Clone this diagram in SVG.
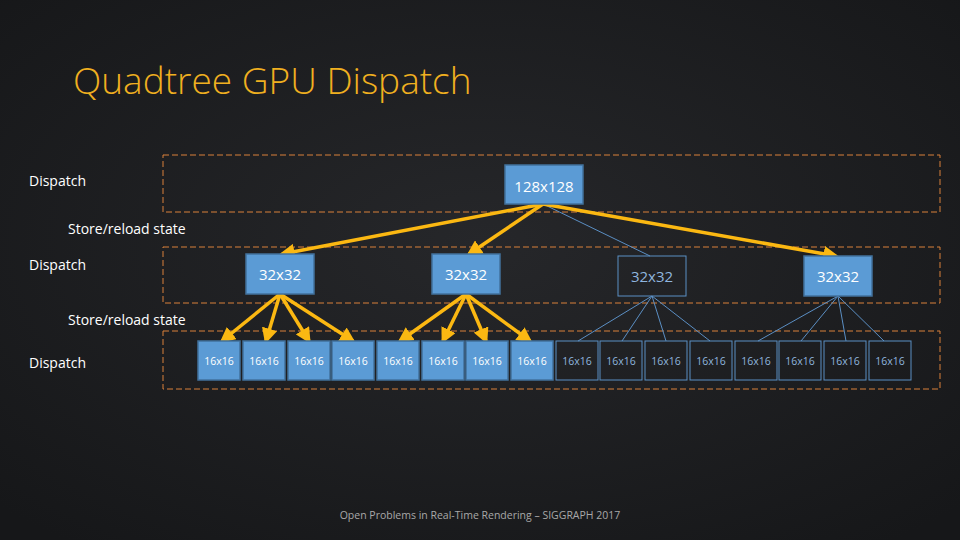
<svg xmlns="http://www.w3.org/2000/svg" width="960" height="540" viewBox="0 0 960 540">
<defs>
<radialGradient id="bg" cx="50%" cy="45%" r="70%"><stop offset="0" stop-color="#26272a"/><stop offset="1" stop-color="#161719"/></radialGradient>
<marker id="ah" viewBox="0 0 10 10" refX="8" refY="5" markerWidth="4.5" markerHeight="4.5" orient="auto"><path d="M0,0 L10,5 L0,10 z" fill="#fbb812"/></marker>
</defs>
<style>
.lane{fill:none;stroke:#d9803a;stroke-width:1;stroke-dasharray:6,3}
.f{fill:#5b9bd5;stroke:#41719c;stroke-width:1.5}
.o{fill:none;stroke:#5b8fc4;stroke-width:1}
.t{font-family:"Open Sans","Liberation Sans",Arial,sans-serif;fill:#fff;text-anchor:middle}
.to{font-family:"Open Sans","Liberation Sans",Arial,sans-serif;fill:#8fb5de;text-anchor:middle}
.lbl{font-family:"Open Sans","Liberation Sans",Arial,sans-serif;fill:#fff;font-size:14px}
.y{stroke:#fbb812;stroke-width:3.5;fill:none;marker-end:url(#ah)}
.b{stroke:#5b8fc4;stroke-width:1;fill:none}
</style>
<rect width="960" height="540" fill="url(#bg)"/>
<text x="73" y="94" font-family="'Open Sans','Liberation Sans',Arial,sans-serif" font-size="37" fill="#f0b020" font-weight="300">Quadtree GPU Dispatch</text>
<rect class="lane" x="163" y="155" width="777" height="57"/>
<rect class="lane" x="163" y="247" width="777" height="56"/>
<rect class="lane" x="163" y="331" width="777" height="58"/>
<text class="lbl" x="29" y="186">Dispatch</text>
<text class="lbl" x="68" y="234">Store/reload state</text>
<text class="lbl" x="29" y="270">Dispatch</text>
<text class="lbl" x="68" y="325">Store/reload state</text>
<text class="lbl" x="29" y="368">Dispatch</text>
<g id="connectors">
<line class="b" x1="543" y1="204" x2="650" y2="256"/>
<line class="b" x1="652" y1="296" x2="578" y2="341"/><line class="b" x1="652" y1="296" x2="622" y2="341"/><line class="b" x1="652" y1="296" x2="666" y2="341"/><line class="b" x1="652" y1="296" x2="710" y2="341"/>
<line class="b" x1="838" y1="296" x2="758" y2="341"/><line class="b" x1="838" y1="296" x2="801" y2="341"/><line class="b" x1="838" y1="296" x2="846" y2="341"/><line class="b" x1="838" y1="296" x2="884" y2="341"/>
<line class="y" x1="543" y1="204" x2="282" y2="254"/>
<line class="y" x1="543" y1="204" x2="469" y2="254"/>
<line class="y" x1="543" y1="204" x2="836" y2="256"/>
<line class="y" x1="280" y1="294" x2="222" y2="341"/><line class="y" x1="280" y1="294" x2="266" y2="341"/><line class="y" x1="280" y1="294" x2="309" y2="341"/><line class="y" x1="280" y1="294" x2="353" y2="341"/>
<line class="y" x1="466" y1="294" x2="400" y2="341"/><line class="y" x1="466" y1="294" x2="443" y2="341"/><line class="y" x1="466" y1="294" x2="486" y2="341"/><line class="y" x1="466" y1="294" x2="530" y2="341"/>
</g>
<g id="n128"><rect class="f" x="505" y="165" width="78" height="39"/><text class="t" x="544" y="192" font-size="15">128x128</text></g>
<g id="n32a"><rect class="f" x="246" y="254" width="68" height="40"/><text class="t" x="280" y="280" font-size="15">32x32</text></g>
<g id="n32b"><rect class="f" x="432" y="254" width="68" height="40"/><text class="t" x="466" y="280" font-size="15">32x32</text></g>
<g id="n32c"><rect class="o" x="618" y="256" width="68" height="40"/><text class="to" x="652" y="282" font-size="15">32x32</text></g>
<g id="n32d"><rect class="f" x="804" y="256" width="68" height="40"/><text class="t" x="838" y="282" font-size="15">32x32</text></g>
<g font-size="10.5">
<g id="s1"><rect class="f" x="198" y="341" width="42" height="39"/><text class="t" x="219" y="365">16x16</text></g>
<g id="s2"><rect class="f" x="243" y="341" width="42" height="39"/><text class="t" x="264" y="365">16x16</text></g>
<g id="s3"><rect class="f" x="288" y="341" width="42" height="39"/><text class="t" x="309" y="365">16x16</text></g>
<g id="s4"><rect class="f" x="332" y="341" width="42" height="39"/><text class="t" x="353" y="365">16x16</text></g>
<g id="s5"><rect class="f" x="377" y="341" width="42" height="39"/><text class="t" x="398" y="365">16x16</text></g>
<g id="s6"><rect class="f" x="422" y="341" width="42" height="39"/><text class="t" x="443" y="365">16x16</text></g>
<g id="s7"><rect class="f" x="466" y="341" width="42" height="39"/><text class="t" x="487" y="365">16x16</text></g>
<g id="s8"><rect class="f" x="511" y="341" width="42" height="39"/><text class="t" x="532" y="365">16x16</text></g>
<g id="s9"><rect class="o" x="556" y="341" width="42" height="39"/><text class="to" x="577" y="365">16x16</text></g>
<g id="s10"><rect class="o" x="600" y="341" width="42" height="39"/><text class="to" x="621" y="365">16x16</text></g>
<g id="s11"><rect class="o" x="645" y="341" width="42" height="39"/><text class="to" x="666" y="365">16x16</text></g>
<g id="s12"><rect class="o" x="690" y="341" width="42" height="39"/><text class="to" x="711" y="365">16x16</text></g>
<g id="s13"><rect class="o" x="735" y="341" width="42" height="39"/><text class="to" x="756" y="365">16x16</text></g>
<g id="s14"><rect class="o" x="779" y="341" width="42" height="39"/><text class="to" x="800" y="365">16x16</text></g>
<g id="s15"><rect class="o" x="824" y="341" width="42" height="39"/><text class="to" x="845" y="365">16x16</text></g>
<g id="s16"><rect class="o" x="869" y="341" width="42" height="39"/><text class="to" x="890" y="365">16x16</text></g>
</g>
<text x="480" y="519" font-family="'Open Sans','Liberation Sans',Arial,sans-serif" font-size="10.5" fill="#a8a8a8" text-anchor="middle">Open Problems in Real-Time Rendering – SIGGRAPH 2017</text>
</svg>
